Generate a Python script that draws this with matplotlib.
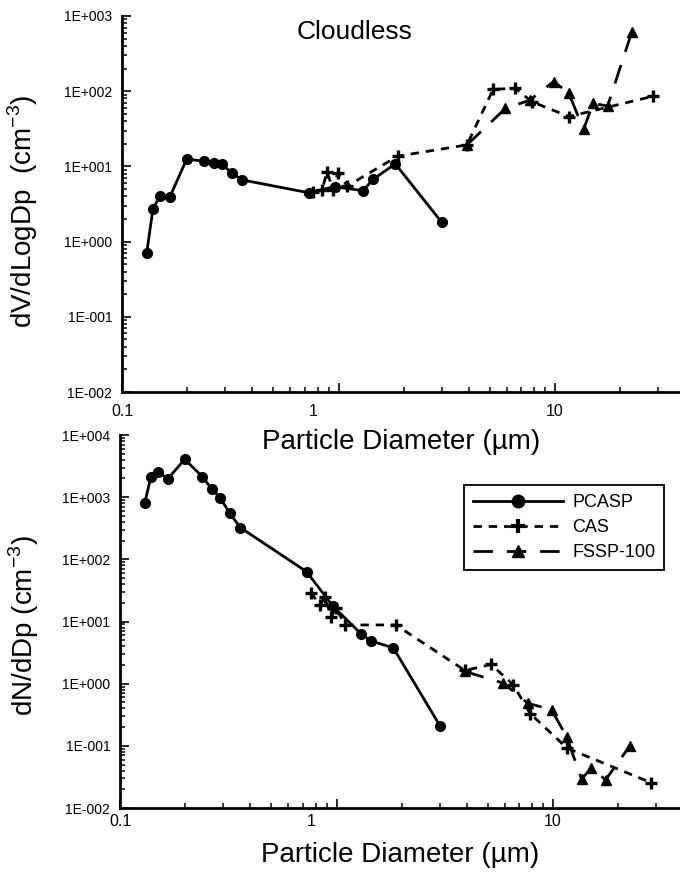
"""Cloudless case: volume and number size distributions from PCASP, CAS and FSSP-100.

Two stacked log-log panels sharing the same diameter range:
  - top    : dV/dLogDp versus particle diameter
  - bottom : dN/dDp versus particle diameter
Values are read off the original figure.
"""

import matplotlib

matplotlib.use("Agg")  # off-screen rendering, PNG only
import matplotlib.pyplot as plt
from matplotlib.lines import Line2D
from matplotlib.ticker import FixedFormatter, FixedLocator, LogLocator, NullFormatter
from matplotlib.transforms import ScaledTranslation

# --- data ---------------------------------------------------------------
PCASP_DIAM = [0.130, 0.139, 0.150, 0.166, 0.199, 0.240, 0.266, 0.290,
              0.321, 0.360, 0.727, 0.96, 1.30, 1.44, 1.83, 3.0]
PCASP_DV = [0.70, 2.74, 4.04, 3.88, 12.5, 11.7, 11.0, 10.7,
            8.2, 6.6, 4.47, 5.37, 4.75, 6.7, 10.8, 1.80]
PCASP_DN = [798, 2138, 2570, 1963, 4065, 2140, 1340, 981,
            551, 323, 63.4, 17.8, 6.3, 4.87, 3.77, 0.212]

CAS_DIAM = [0.76, 0.84, 0.885, 0.945, 0.99, 1.10, 1.88, 3.92,
            5.18, 6.55, 7.85, 11.6, 28.5]
CAS_DV = [4.6, 4.85, 8.5, 4.85, 8.1, 5.5, 13.7, 19.3,
          106, 109, 72, 46, 86]
CAS_DN = [29.2, 18.5, 24.8, 11.6, 16.6, 8.8, 8.8, 1.63,
          2.04, 0.96, 0.33, 0.092, 0.0254]

FSSP_DIAM = [3.92, 5.9, 7.65, 9.85, 11.55, 13.55, 15.0, 17.5, 22.65]
FSSP_DV = [19.3, 59, 76, 134, 95.5, 31.1, 69, 63.5, 618]
FSSP_DN = [1.57, 1.02, 0.485, 0.379, 0.141, 0.0291, 0.0437, 0.0284, 0.100]

X_TICKS = [0.1, 1, 10]
X_TICK_LABELS = ["0.1", "1", "10"]
TOP_DECADES = list(range(-2, 4))
BOTTOM_DECADES = list(range(-2, 5))

FONT = "Liberation Sans"
LW = 2.0
CAS_DASH = (0, (3, 2.5))
FSSP_DASH = (0, (7, 5))


def style_axes(ax, decades, xmax, xpad, labelpad):
    """Log axes, inward ticks, 1E+00x labels, left/bottom spines only."""
    ax.set_xscale("log")
    ax.set_yscale("log")
    ax.set_xlim(0.1, xmax)
    ax.set_ylim(10.0 ** decades[0], 10.0 ** decades[-1])
    ax.patch.set_visible(False)  # keep the upper panel's x label visible

    for side in ("top", "right"):
        ax.spines[side].set_visible(False)
    for side in ("left", "bottom"):
        ax.spines[side].set_linewidth(2.0)

    ax.yaxis.set_major_locator(FixedLocator([10.0 ** d for d in decades]))
    ax.yaxis.set_major_formatter(FixedFormatter([f"1E{d:+04d}" for d in decades]))
    ax.yaxis.set_minor_locator(LogLocator(base=10, subs=range(2, 10), numticks=20))
    ax.yaxis.set_minor_formatter(NullFormatter())

    ax.xaxis.set_major_locator(FixedLocator(X_TICKS))
    ax.xaxis.set_major_formatter(FixedFormatter(X_TICK_LABELS))
    ax.xaxis.set_minor_locator(LogLocator(base=10, subs=range(2, 10), numticks=20))
    ax.xaxis.set_minor_formatter(NullFormatter())

    ax.tick_params(which="major", direction="in", length=6.5, width=1.2)
    ax.tick_params(which="minor", direction="in", length=3.3, width=1.1)
    ax.tick_params(axis="y", which="major", pad=7, labelsize=10)
    ax.tick_params(axis="x", which="major", pad=xpad, labelsize=11.5)

    ax.set_xlabel("Particle Diameter (\u00b5m)", fontsize=20, labelpad=labelpad)

    # the "1" label sits a little left of its tick in the original
    ax.figure.canvas.draw()
    shift = ScaledTranslation(-0.25, 0, ax.figure.dpi_scale_trans)
    lab = ax.xaxis.get_major_ticks()[1].label1
    lab.set_transform(lab.get_transform() + shift)


def plot_series(ax, pcasp, cas, fssp):
    ax.plot(CAS_DIAM, cas, color="black", lw=LW, ls=CAS_DASH,
            marker="+", ms=8, mew=2.4)
    ax.plot(FSSP_DIAM, fssp, color="black", lw=LW, ls=FSSP_DASH,
            marker="^", ms=7)
    ax.plot(PCASP_DIAM, pcasp, color="black", lw=LW, ls="-",
            marker="o", ms=7)


def main():
    plt.rcParams["font.family"] = [FONT, "DejaVu Sans"]
    plt.rcParams["mathtext.fontset"] = "custom"
    plt.rcParams["mathtext.rm"] = FONT

    fig = plt.figure(figsize=(6.8, 8.72), dpi=100)

    # axes placed from pixel positions of the original
    ax_top = fig.add_axes([122 / 680, 1 - 392 / 872, 558 / 680, 376 / 872])
    ax_bot = fig.add_axes([120 / 680, 1 - 808 / 872, 560 / 680, 373 / 872])

    plot_series(ax_top, PCASP_DV, CAS_DV, FSSP_DV)
    plot_series(ax_bot, PCASP_DN, CAS_DN, FSSP_DN)

    style_axes(ax_top, TOP_DECADES, 10 ** (-1 + 558 / 216.5), xpad=9, labelpad=7)
    style_axes(ax_bot, BOTTOM_DECADES, 10 ** (-1 + 560 / 216.5), xpad=4, labelpad=10)

    ax_top.set_ylabel("dV/dLogDp  (cm$^{\\mathregular{-3}}$)", fontsize=20)
    ax_top.yaxis.set_label_coords(-0.147, 0.48)
    ax_bot.set_ylabel("dN/dDp (cm$^{\\mathregular{-3}}$)", fontsize=20)
    ax_bot.yaxis.set_label_coords(-0.141, 0.49)

    fig.text(355 / 680, 1 - 32 / 872, "Cloudless", fontsize=19,
             ha="center", va="center")

    handles = [
        Line2D([], [], color="black", lw=LW, ls="-", marker="o", ms=9),
        Line2D([], [], color="black", lw=LW, ls=CAS_DASH, marker="+",
               ms=10, mew=3),
        Line2D([], [], color="black", lw=LW, ls=FSSP_DASH, marker="^", ms=8),
    ]
    leg = ax_bot.legend(handles, ["PCASP", "CAS", "FSSP-100"],
                        loc="upper left", bbox_to_anchor=(0.614, 0.866),
                        borderaxespad=0, fontsize=13, handlelength=5.0,
                        fancybox=False, framealpha=1, edgecolor="black",
                        borderpad=0.5, labelspacing=0.45, handletextpad=0.5)
    leg.get_frame().set_linewidth(1.3)

    fig.savefig("out.png", dpi=100)
    plt.close(fig)


if __name__ == "__main__":
    main()
